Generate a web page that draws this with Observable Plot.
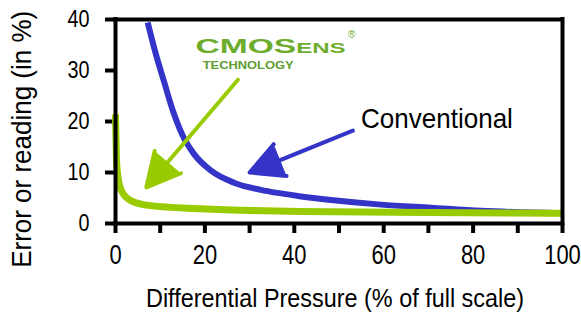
<!DOCTYPE html>
<html>
<head>
<meta charset="utf-8">
<script src="https://cdn.jsdelivr.net/npm/d3@7"></script>
<script src="https://cdn.jsdelivr.net/npm/@observablehq/plot@0.6"></script>
<style>
  html, body { margin: 0; padding: 0; background: #fff; }
</style>
</head>
<body>
<div id="chart"></div>
<script>
// ---- data ----
const xTicks = [0, 10, 20, 30, 40, 50, 60, 70, 80, 90, 100];
const yTicks = [0, 10, 20, 30, 40];

const conventionalX = [7.2, 9.0, 10.8, 12.8, 15, 17.5, 21.3, 26.5, 32.5, 37, 41.5, 48.2, 59.4, 70.6, 81.8, 100];
const conventionalY = [39.4, 33.3, 28, 22.2, 17.3, 13.7, 10.4, 8.0, 6.6, 5.9, 5.3, 4.6, 3.7, 3.1, 2.5, 2.0];

const cmosensX = [0, 0.2, 0.5, 1.3, 3.4, 7.8, 19, 41.5, 70, 100];
const cmosensY = [21.4, 13, 9.5, 6.5, 4.5, 3.5, 2.9, 2.35, 2.15, 2.0];

const arrowLabels = ["CMOSens", "Conventional"];
const arrowX1 = [27.4, 53.1];
const arrowY1 = [28.2, 18.2];
const arrowX2 = [6.9, 30];
const arrowY2 = [7.1, 10];

const xLabel = "Differential Pressure (% of full scale)";
const yLabel = "Error or reading (in %)";

// ---- build tables ----
const conventional = conventionalX.map((x, i) => ({x, y: conventionalY[i]}));
const cmosens = cmosensX.map((x, i) => ({x, y: cmosensY[i]}));
const arrows = arrowLabels.map((k, i) => ({k, x1: arrowX1[i], y1: arrowY1[i], x2: arrowX2[i], y2: arrowY2[i]}));

const FONT = "'Liberation Sans', Arial, sans-serif";
const BLUE = "#3434c8";
const GREEN = "#99cc00";
const LOGO = "#6cad2e";

const chart = Plot.plot({
  width: 581,
  height: 314,
  marginLeft: 115,
  marginRight: 19,
  marginTop: 19,
  marginBottom: 91,
  style: {fontFamily: FONT, background: "#fff", color: "#000", overflow: "visible"},
  x: {domain: [0, 100]},
  y: {domain: [0, 40]},
  marks: [
    Plot.axisX({ticks: xTicks, tickSize: 10, strokeWidth: 4, tickPadding: 11, fontSize: 28,
      tickFormat: d => d % 20 === 0 ? String(d) : "", label: null}),
    Plot.axisY({ticks: yTicks, tickSize: 10, strokeWidth: 4, tickPadding: 16, fontSize: 24, label: null}),
    Plot.line(conventional, {x: "x", y: "y", stroke: BLUE, strokeWidth: 6, curve: "monotone-x", strokeLinecap: "butt"}),
    Plot.line(cmosens, {x: "x", y: "y", stroke: GREEN, strokeWidth: 7, curve: "monotone-x", strokeLinecap: "butt"}),
    Plot.ruleY([0, 40], {strokeWidth: 4, strokeLinecap: "square"}),
    Plot.ruleX([0, 100], {strokeWidth: 4, strokeLinecap: "square"}),
    Plot.arrow(arrows, {x1: "x1", y1: "y1", x2: "x2", y2: "y2",
      stroke: d => d.k === "CMOSens" ? GREEN : BLUE, fill: d => d.k === "CMOSens" ? GREEN : BLUE,
      strokeWidth: 4, headLength: 14, headAngle: 55, strokeLinejoin: "miter"}),
    Plot.text(["Conventional"], {x: 54.9, y: 18.8, textAnchor: "start", lineAnchor: "bottom", fontSize: 28}),
    Plot.text(["CMOSens"], {x: 17.9, y: 33.5, textAnchor: "start", lineAnchor: "bottom", fontSize: 21,
      fontWeight: "bold", fontVariant: "small-caps", fill: LOGO}),
    Plot.text(["®"], {x: 52, y: 36.3, textAnchor: "start", lineAnchor: "bottom", fontSize: 10, fill: LOGO}),
    Plot.text(["TECHNOLOGY"], {x: 19.5, y: 30.2, textAnchor: "start", lineAnchor: "bottom", fontSize: 10,
      fontWeight: "bold", fill: "#5e9c34"}),
    Plot.text([xLabel], {frameAnchor: "bottom", dx: -4, dy: 83, fontSize: 25}),
    Plot.text([yLabel], {x: -21, y: 16.5, rotate: -90, fontSize: 28})
  ]
});

// condensed look of the original lettering: fit texts to their measured widths
const svg = d3.select(chart);
const fit = {
  "CMOSens": 150,
  "TECHNOLOGY": 91,
  "Conventional": 152,
  [xLabel]: 378,
  [yLabel]: 257
};
svg.selectAll("text").each(function () {
  const t = this.textContent;
  if (fit[t] !== undefined) {
    d3.select(this).attr("textLength", fit[t]).attr("lengthAdjust", "spacingAndGlyphs");
  }
});
svg.selectAll('g[aria-label="x-axis tick label"] text').each(function () {
  const t = this.textContent;
  if (t) d3.select(this).attr("textLength", 12.2 * t.length).attr("lengthAdjust", "spacingAndGlyphs");
});
svg.selectAll('g[aria-label="y-axis tick label"] text').each(function () {
  const t = this.textContent;
  if (t) d3.select(this).attr("textLength", 11 * t.length).attr("lengthAdjust", "spacingAndGlyphs");
});

document.getElementById("chart").appendChild(chart);
</script>
</body>
</html>
